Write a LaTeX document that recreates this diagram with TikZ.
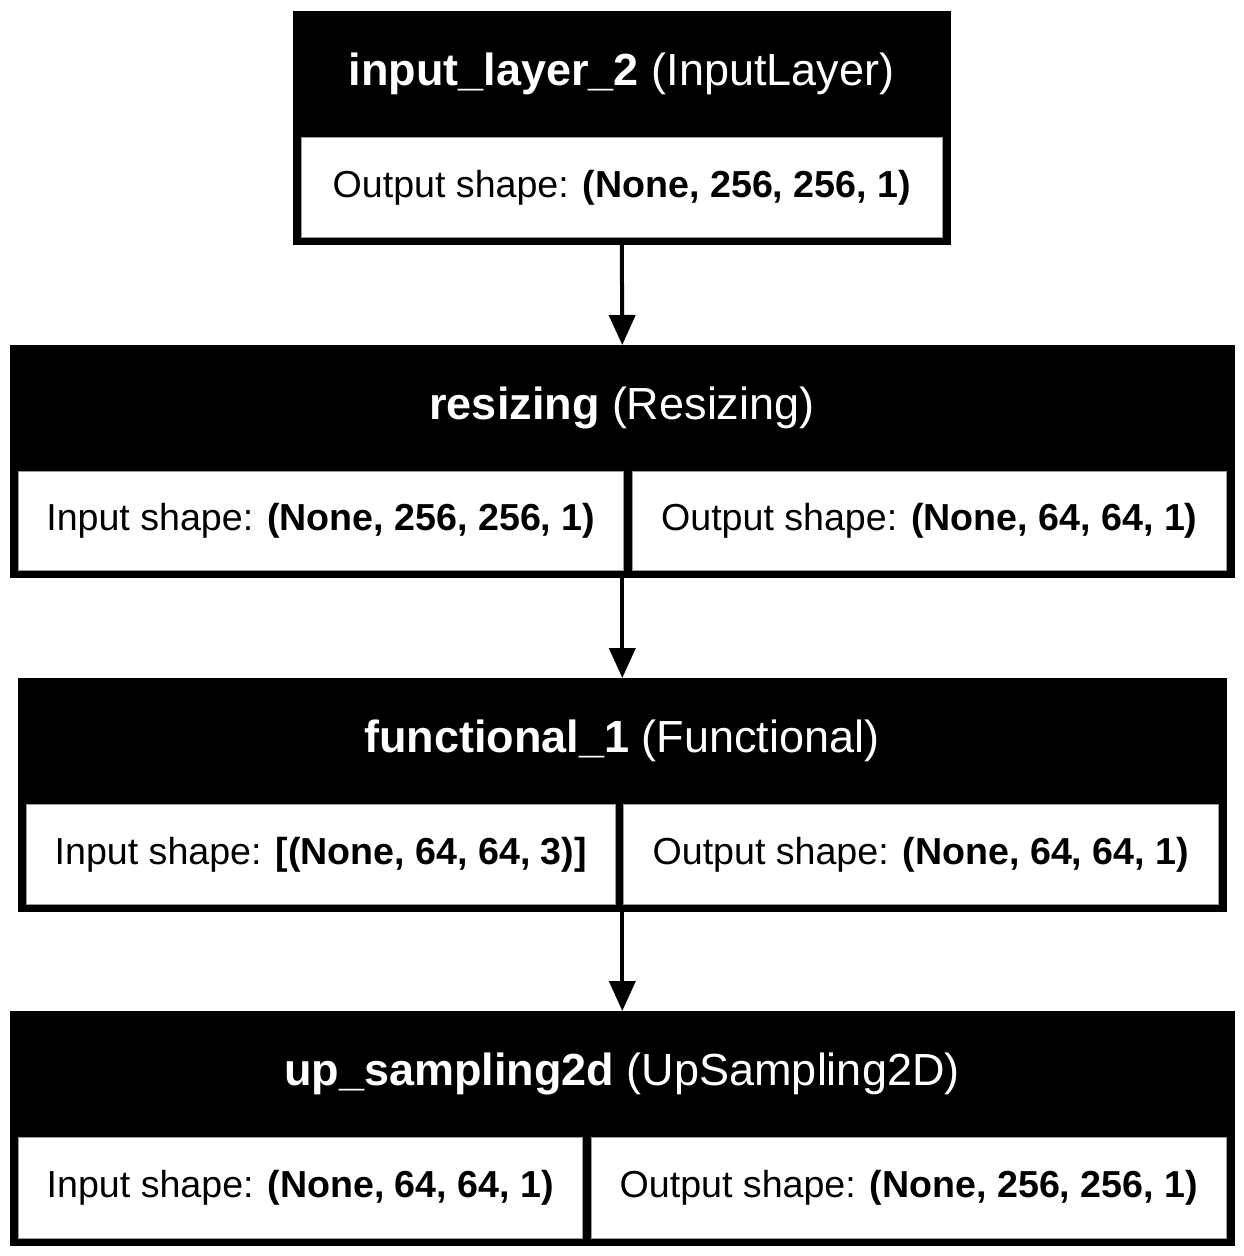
\documentclass[tikz,border=0pt]{standalone}
\usepackage{fontspec}
\setmainfont{Liberation Sans}
\usetikzlibrary{arrows.meta}
\tikzset{
  layerbox/.style={fill=black, draw=black, line width=0.6pt, inner sep=0pt, anchor=north west},
  cellbox/.style={fill=white, draw=black!40, line width=0.6pt, inner sep=0pt, anchor=north west, font=\fontsize{37.6}{45}\selectfont},
  headtext/.style={text=white, inner sep=0pt, font=\fontsize{45}{54}\selectfont},
  conn/.style={line width=4pt, -{Triangle[length=30pt,width=26pt]}}
}
\begin{document}
\begin{tikzpicture}[x=1pt,y=-1pt]
\useasboundingbox[fill=white] (0,0) rectangle (1244,1256);
% layer 1
\node[layerbox, minimum width=657pt, minimum height=233pt] (L1) at (293,11) {};
\node[headtext] (L1h) at (621.5,74) {\textbf{input\_layer\_2} (InputLayer)};
\node[cellbox, minimum width=641pt, minimum height=100pt] (L1o) at (301,137) {Output shape: \textbf{(None, 256, 256, 1)}};
% layer 2
\node[layerbox, minimum width=1224pt, minimum height=232pt] (L2) at (10,345) {};
\node[headtext] (L2h) at (622,408) {\textbf{resizing} (Resizing)};
\node[cellbox, minimum width=605pt, minimum height=99pt] (L2i) at (18,471) {Input shape: \textbf{(None, 256, 256, 1)}};
\node[cellbox, minimum width=594pt, minimum height=99pt] (L2o) at (632,471) {Output shape: \textbf{(None, 64, 64, 1)}};
% layer 3
\node[layerbox, minimum width=1208pt, minimum height=233pt] (L3) at (18,678) {};
\node[headtext] (L3h) at (622,741) {\textbf{functional\_1} (Functional)};
\node[cellbox, minimum width=589pt, minimum height=100pt] (L3i) at (26,804) {Input shape: \textbf{[(None, 64, 64, 3)]}};
\node[cellbox, minimum width=595pt, minimum height=100pt] (L3o) at (623,804) {Output shape: \textbf{(None, 64, 64, 1)}};
% layer 4
\node[layerbox, minimum width=1224pt, minimum height=234pt] (L4) at (10,1011) {};
\node[headtext] (L4h) at (622,1074) {\textbf{up\_sampling2d} (UpSampling2D)};
\node[cellbox, minimum width=564pt, minimum height=101pt] (L4i) at (18,1137) {Input shape: \textbf{(None, 64, 64, 1)}};
\node[cellbox, minimum width=635pt, minimum height=101pt] (L4o) at (591,1137) {Output shape: \textbf{(None, 256, 256, 1)}};
% connectors
\draw[conn] (L1.south) -- (L2.north);
\draw[conn] (L2.south) -- (L3.north);
\draw[conn] (L3.south) -- (L4.north);
\end{tikzpicture}
\end{document}
